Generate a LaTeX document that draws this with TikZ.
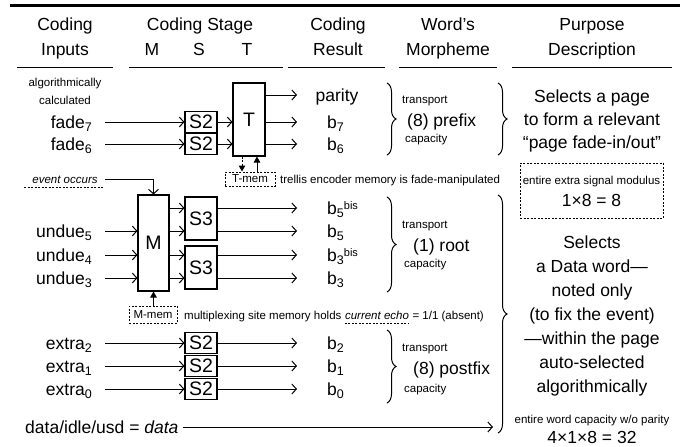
\documentclass[tikz,border=0pt]{standalone}
\usepackage{fontspec}
\setmainfont{Liberation Sans}
\usetikzlibrary{arrows.meta,decorations.pathreplacing,calc}
\newcommand{\mysub}[1]{\raisebox{-3.5pt}{\fontsize{12.5}{12.5}\selectfont #1}}
\newcommand{\mysup}[1]{\raisebox{5pt}{\fontsize{11}{11}\selectfont #1}}
\begin{document}
\begin{tikzpicture}[x=1pt,y=-1pt,
  big/.style={font=\fontsize{17.5}{20}\selectfont, inner sep=0pt},
  sml/.style={font=\fontsize{11.5}{13}\selectfont, inner sep=0pt},
  smli/.style={font=\fontsize{11.5}{13}\selectfont\itshape, inner sep=0pt},
  blk/.style={draw, line width=1.1pt, inner sep=0pt, font=\fontsize{19.5}{20}\selectfont},
  arr/.style={line width=1pt, -{Straight Barb[length=4.5pt,width=10pt]}},
  memarr/.style={line width=1pt, -{Triangle[length=6pt,width=6.5pt]}},
  mdash/.style={line width=1pt, dash pattern=on 2pt off 1.5pt},
  mbox/.style={draw, mdash, inner sep=0pt, font=\fontsize{11.5}{13}\selectfont},
  brc/.style={decorate, decoration={brace, amplitude=9pt}, line width=1pt},
  rule/.style={line width=1pt}]
\useasboundingbox (0,0) rectangle (699,447);

% ---------- header ----------
\draw[line width=3pt] (10,5) -- (680,5);
\node[big, anchor=base] (h1a) at (65,30) {Coding};
\node[big, anchor=base] (h1b) at (65,55) {Inputs};
\node[big, anchor=base] (h2a) at (200,30) {Coding Stage};
\node[big, anchor=base] (hM) at (152,55) {M};
\node[big, anchor=base] (hS) at (199,55) {S};
\node[big, anchor=base] (hT) at (247,55) {T};
\node[big, anchor=base] (h3a) at (338,30) {Coding};
\node[big, anchor=base] (h3b) at (338,55) {Result};
\node[big, anchor=base] (h4a) at (448,30) {Word’s};
\node[big, anchor=base] (h4b) at (448,55) {Morpheme};
\node[big, anchor=base] (h5a) at (592,30) {Purpose};
\node[big, anchor=base] (h5b) at (592,55) {Description};
\draw[rule] (17,67) -- (113,67);
\draw[rule] (129,67) -- (283,67);
\draw[rule] (288,67) -- (385,67);
\draw[rule] (399,67) -- (497,67);
\draw[rule] (512,67) -- (672,67);

% ---------- prefix section ----------
\node[sml, anchor=base] (alg) at (65,86) {algorithmically};
\node[sml, anchor=base] (calc) at (65,104) {calculated};
\node[big, anchor=base east] (f7) at (92,128) {fade\mysub{7}};
\node[big, anchor=base east] (f6) at (92,150) {fade\mysub{6}};

\node[blk, minimum width=32pt, minimum height=73pt] (T) at (249,119.5) {T};
\node[blk, minimum width=32pt, minimum height=21pt] (S2a) at (201,122) {S2};
\node[blk, minimum width=32pt, minimum height=21pt] (S2b) at (201,144) {S2};

\coordinate (f7a) at (105,122);
\coordinate (f6a) at (105,144);
\draw[arr] (f7a) -- (S2a.west);
\draw[arr] (f6a) -- (S2b.west);
\draw[arr] (S2a.east) -- (S2a.east -| T.west);
\draw[arr] (S2b.east) -- (S2b.east -| T.west);
\coordinate (o1) at (297,95);
\coordinate (o2) at (297,122);
\coordinate (o3) at (297,144);
\draw[arr] (o1 -| T.east) -- (o1);
\draw[arr] (o2 -| T.east) -- (o2);
\draw[arr] (o3 -| T.east) -- (o3);

\node[big, anchor=base] (par) at (337,101) {parity};
\node[big, anchor=base west] (b7) at (327,128) {b\mysub{7}};
\node[big, anchor=base west] (b6) at (327,150) {b\mysub{6}};

\coordinate (pb1) at (387,83);
\coordinate (pb2) at (387,155);
\draw[brc] (pb1) -- (pb2);
\node[sml, anchor=base west] (pt1) at (402,103) {transport};
\node[big, anchor=base west] (pt2) at (407,126) {(8) prefix};
\node[sml, anchor=base west] (pt3) at (405,142) {capacity};

\coordinate (qb1) at (498,83);
\coordinate (qb2) at (498,155);
\draw[brc] (qb1) -- (qb2);
\node[big, anchor=base] (pu1) at (592,102) {Selects a page};
\node[big, anchor=base] (pu2) at (592,125) {to form a relevant};
\node[big, anchor=base] (pu3) at (592,148) {“page fade-in/out”};

% T memory
\node[mbox, minimum width=50pt, minimum height=14pt] (Tmem) at (250,179) {T-mem};
\draw[memarr, dash pattern=on 2pt off 1.5pt] ([xshift=-7pt]T.south) -- ([xshift=-7pt]T.south |- Tmem.north);
\draw[memarr] ([xshift=8pt]T.south |- Tmem.north) -- ([xshift=8pt]T.south);
\node[sml, anchor=base west] (trl) at (280,183) {trellis encoder memory is fade-manipulated};

% modulus box
\node[mbox, minimum width=143pt, minimum height=55pt] (mod) at (591.5,190.5) {};
\node[sml, anchor=base] (mod1) at (591.5,184) {entire extra signal modulus};
\node[big, anchor=base] (mod2) at (591.5,206) {1×8 = 8};

% ---------- root section ----------
\node[smli, anchor=base] (ev) at (65,183) {event occurs};
\draw[mdash] ($(ev.base west)+(-8,4)$) -- ($(ev.base east)+(6,4)$);

\node[blk, minimum width=31pt, minimum height=96pt] (M) at (153.5,243) {M};
\node[blk, minimum width=32pt, minimum height=43pt] (S3a) at (201,218.5) {S3};
\node[blk, minimum width=32pt, minimum height=43pt] (S3b) at (201,267.5) {S3};

\coordinate (evs) at (105,179);
\draw[arr] (evs) -| (M.north);

\node[big, anchor=base east] (u5l) at (92,237) {undue\mysub{5}};
\node[big, anchor=base east] (u4l) at (92,261) {undue\mysub{4}};
\node[big, anchor=base east] (u3l) at (92,284) {undue\mysub{3}};
\coordinate (u5) at (105,231);
\coordinate (u4) at (105,255);
\coordinate (u3) at (105,278);
\draw[arr] (u5) -- (u5 -| M.west);
\draw[arr] (u4) -- (u4 -| M.west);
\draw[arr] (u3) -- (u3 -| M.west);

\coordinate (q1) at (297,208);
\coordinate (q2) at (297,231);
\coordinate (q3) at (297,255);
\coordinate (q4) at (297,278);
\draw[arr] (q1 -| M.east) -- (q1 -| S3a.west);
\draw[arr] (q2 -| M.east) -- (q2 -| S3a.west);
\draw[arr] (q3 -| M.east) -- (q3 -| S3b.west);
\draw[arr] (q4 -| M.east) -- (q4 -| S3b.west);
\draw[arr] (q1 -| S3a.east) -- (q1);
\draw[arr] (q2 -| S3a.east) -- (q2);
\draw[arr] (q3 -| S3b.east) -- (q3);
\draw[arr] (q4 -| S3b.east) -- (q4);

\node[big, anchor=base west] (b5b) at (327,214) {b\mysub{5}\mysup{bis}};
\node[big, anchor=base west] (b5) at (327,237) {b\mysub{5}};
\node[big, anchor=base west] (b3b) at (327,261) {b\mysub{3}\mysup{bis}};
\node[big, anchor=base west] (b3) at (327,284) {b\mysub{3}};

\coordinate (rb1) at (387,197);
\coordinate (rb2) at (387,292);
\draw[brc] (rb1) -- (rb2);
\node[sml, anchor=base west] (rt1) at (402,228) {transport};
\node[big, anchor=base west] (rt2) at (413,251) {(1) root};
\node[sml, anchor=base west] (rt3) at (404,267) {capacity};

% M memory
\node[mbox, minimum width=48pt, minimum height=17pt] (Mmem) at (153,314.5) {M-mem};
\draw[memarr] (M.south |- Mmem.north) -- (M.south);
\node[sml, anchor=base west] (mx1) at (184,319) {multiplexing site memory holds};
\node[smli, anchor=base west] (mx2) at ($(mx1.base east)+(3.2,0)$) {current echo};
\node[sml, anchor=base west] (mx3) at ($(mx2.base east)+(3.2,0)$) {= 1/1 (absent)};
\draw[mdash] ($(mx2.base west)+(0,4)$) -- ($(mx2.base east)+(0,4)$);

% ---------- postfix section ----------
\node[big, anchor=base east] (x2l) at (92,349) {extra\mysub{2}};
\node[big, anchor=base east] (x1l) at (92,372) {extra\mysub{1}};
\node[big, anchor=base east] (x0l) at (92,395) {extra\mysub{0}};
\node[blk, minimum width=32pt, minimum height=21pt] (S2c) at (201,343) {S2};
\node[blk, minimum width=32pt, minimum height=21pt] (S2d) at (201,366) {S2};
\node[blk, minimum width=32pt, minimum height=21pt] (S2e) at (201,389) {S2};
\coordinate (x2) at (105,343);
\coordinate (x1) at (105,366);
\coordinate (x0) at (105,389);
\draw[arr] (x2) -- (S2c.west);
\draw[arr] (x1) -- (S2d.west);
\draw[arr] (x0) -- (S2e.west);
\coordinate (p2) at (297,343);
\coordinate (p1) at (297,366);
\coordinate (p0) at (297,389);
\draw[arr] (S2c.east) -- (p2);
\draw[arr] (S2d.east) -- (p1);
\draw[arr] (S2e.east) -- (p0);
\node[big, anchor=base west] (b2) at (327,349) {b\mysub{2}};
\node[big, anchor=base west] (b1) at (327,372) {b\mysub{1}};
\node[big, anchor=base west] (b0) at (327,395) {b\mysub{0}};

\coordinate (sb1) at (387,330);
\coordinate (sb2) at (387,403);
\draw[brc] (sb1) -- (sb2);
\node[sml, anchor=base west] (st1) at (402,351) {transport};
\node[big, anchor=base west] (st2) at (413,374) {(8) postfix};
\node[sml, anchor=base west] (st3) at (404,392) {capacity};

% data line
\node[big, anchor=base west] (dat) at (25,433) {data/idle/usd = \textit{data}};
\coordinate (dats) at (183,427);
\coordinate (date) at (493,427);
\draw[arr] (dats) -- (date);

% big brace and description
\coordinate (bb1) at (498,195);
\coordinate (bb2) at (498,433);
\draw[brc] (bb1) -- (bb2);
\node[big, anchor=base] (d1) at (592,248.5) {Selects};
\node[big, anchor=base] (d2) at (592,272.5) {a Data word—};
\node[big, anchor=base] (d3) at (592,296.5) {noted only};
\node[big, anchor=base] (d4) at (592,320.5) {(to fix the event)};
\node[big, anchor=base] (d5) at (592,344.5) {—within the page};
\node[big, anchor=base] (d6) at (592,368.5) {auto-selected};
\node[big, anchor=base] (d7) at (592,392.5) {algorithmically};
\node[sml, anchor=base] (w1) at (592,423) {entire word capacity w/o parity};
\node[big, anchor=base] (w2) at (592,443) {4×1×8 = 32};
\end{tikzpicture}
\end{document}
